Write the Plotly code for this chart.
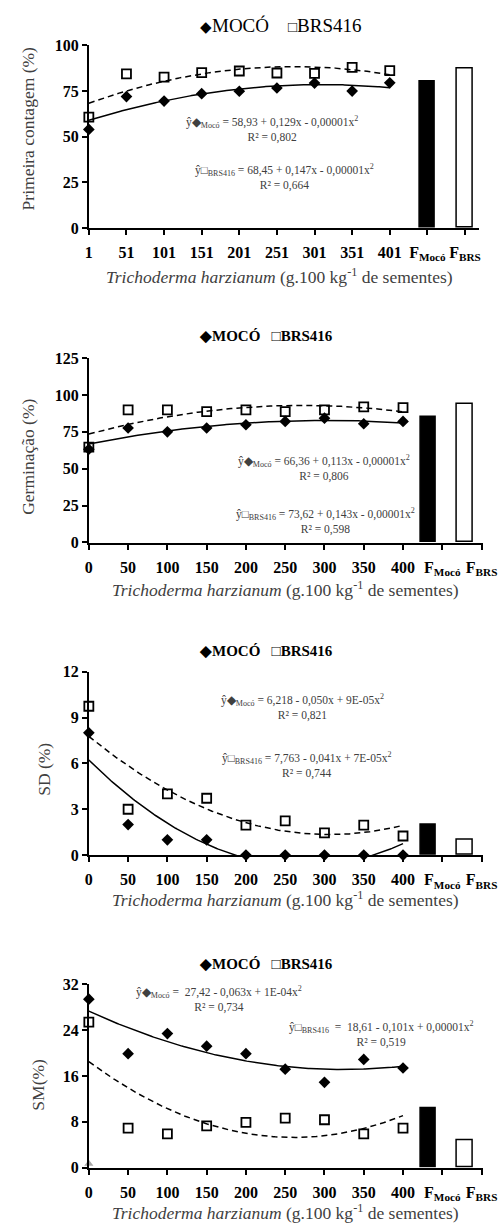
import numpy as np
import plotly.graph_objects as go

W, H = 501, 1229
SERIF = "Liberation Serif"

# ---------------- data ----------------
doses_p1 = [1, 51, 101, 151, 201, 251, 301, 351, 401]
doses = [0, 50, 100, 150, 200, 250, 300, 350, 400]
dose_labels_p1 = ["1", "51", "101", "151", "201", "251", "301", "351", "401"]
dose_labels = ["0", "50", "100", "150", "200", "250", "300", "350", "400"]
bar_labels = ["F<sub>Mocó</sub>", "F<sub>BRS</sub>"]

pc_moco = [54.0, 72.0, 69.5, 73.6, 74.9, 76.7, 79.4, 75.0, 79.5]
pc_brs = [60.7, 84.4, 82.6, 85.1, 86.0, 84.9, 84.7, 88.0, 86.2]
pc_bars = [80.0, 87.3]

ger_moco = [63.2, 77.6, 75.0, 77.6, 79.8, 82.1, 84.3, 80.5, 82.1]
ger_brs = [64.7, 89.9, 89.9, 88.7, 89.9, 88.7, 89.9, 91.9, 91.4]
ger_bars = [85.0, 93.9]

sd_moco = [8.0, 2.0, 1.0, 1.0, 0.0, 0.0, 0.0, 0.0, 0.0]
sd_brs = [9.74, 3.0, 4.0, 3.72, 1.96, 2.24, 1.46, 1.96, 1.25]
sd_bars = [2.0, 1.0]

sm_moco = [29.4, 19.9, 23.4, 21.2, 19.9, 17.2, 14.9, 18.9, 17.4]
sm_brs = [25.4, 6.9, 5.9, 7.3, 7.9, 8.66, 8.37, 5.9, 6.9]
sm_bars = [10.4, 4.87]
sm_extra_x = [0]
sm_extra_y = [0.7]

eq_texts = [
    ("ŷ◆<sub>Mocó</sub> = 58,93 + 0,129x - 0,00001x<sup>2</sup><br>R² = 0,802",
     "ŷ□<sub>BRS416</sub> = 68,45 + 0,147x - 0,00001x<sup>2</sup><br>R² = 0,664"),
    ("ŷ◆<sub>Mocó</sub> = 66,36 + 0,113x - 0,00001x<sup>2</sup><br>R² = 0,806",
     "ŷ□<sub>BRS416</sub> = 73,62 + 0,143x - 0,00001x<sup>2</sup><br>R² = 0,598"),
    ("ŷ◆<sub>Mocó</sub> = 6,218 - 0,050x + 9E-05x<sup>2</sup><br>R² = 0,821",
     "ŷ□<sub>BRS416</sub> = 7,763 - 0,041x + 7E-05x<sup>2</sup><br>R² = 0,744"),
    ("ŷ◆<sub>Mocó</sub> =  27,42 - 0,063x + 1E-04x<sup>2</sup><br>R² = 0,734",
     "ŷ□<sub>BRS416</sub>  =  18,61 - 0,101x + 0,00001x<sup>2</sup><br>R² = 0,519"),
]
y_titles = ["Primeira contagem (%)", "Germinação (%)", "SD (%)", "SM(%)"]

# ---------------- layout geometry (pixels) ----------------
panels = [
    dict(x=doses_p1, labels=dose_labels_p1, moco=pc_moco, brs=pc_brs, bars=pc_bars,
         ymax=100, dtick=25, ytop=38, ybot=223, xl=88, xr=493, xrange=[1, 520],
         barpos=[451, 501], barw=20.5, tickextra=[451, 501],
         leg=(287, 18, 19, False), ytit=(25, 123), xtit=(286, 272),
         eq=((278, 123), (291, 171))),
    dict(x=doses, labels=dose_labels, moco=ger_moco, brs=ger_brs, bars=ger_bars,
         ymax=125, dtick=25, ytop=355, ybot=542, xl=88, xr=497, xrange=[0, 502],
         barpos=[432, 478.5], barw=19.6, tickextra=[450, 500],
         leg=(272, 333, 15, True), ytit=(25, 455), xtit=(292, 589),
         eq=((332, 466), (333, 520))),
    dict(x=doses, labels=dose_labels, moco=sd_moco, brs=sd_brs, bars=sd_bars,
         ymax=12, dtick=3, ytop=673, ybot=859, xl=88, xr=497, xrange=[0, 502],
         barpos=[432, 478.5], barw=19.6, tickextra=[450, 500],
         leg=(272, 652, 15, True), ytit=(42, 772), xtit=(292, 904),
         eq=((310, 709), (314, 768))),
    dict(x=doses, labels=dose_labels, moco=sm_moco, brs=sm_brs, bars=sm_bars,
         ymax=32, dtick=8, ytop=990, ybot=1176, xl=88, xr=497, xrange=[0, 502],
         barpos=[432, 478.5], barw=19.6, tickextra=[450, 500],
         leg=(272, 969, 15, True), ytit=(35, 1092), xtit=(292, 1221),
         eq=((223, 1005), (391, 1040))),
]

fig = go.Figure()
annotations = []
layout_axes = {}

for i, p in enumerate(panels, start=1):
    xa = "x" if i == 1 else f"x{i}"
    ya = "y" if i == 1 else f"y{i}"
    xs = np.array(p["x"], dtype=float)

    # bars F
    fig.add_trace(go.Bar(
        x=p["barpos"], y=p["bars"], width=[p["barw"]] * 2,
        marker=dict(color=["black", "white"], line=dict(color="black", width=1.5)),
        xaxis=xa, yaxis=ya, showlegend=False))

    # quadratic trendlines fitted to the data (as in the original spreadsheet)
    xf = np.linspace(xs.min(), xs.max(), 200)
    cm = np.polyfit(xs, p["moco"], 2)
    cb = np.polyfit(xs, p["brs"], 2)
    fig.add_trace(go.Scatter(x=xf, y=np.polyval(cm, xf), mode="lines",
                             line=dict(color="black", width=1.5),
                             xaxis=xa, yaxis=ya, showlegend=False, hoverinfo="skip"))
    fig.add_trace(go.Scatter(x=xf, y=np.polyval(cb, xf), mode="lines",
                             line=dict(color="black", width=1.5, dash="6px,4px"),
                             xaxis=xa, yaxis=ya, showlegend=False, hoverinfo="skip"))

    # data points
    fig.add_trace(go.Scatter(x=p["x"], y=p["moco"], mode="markers", name="MOCÓ",
                             marker=dict(symbol="diamond", color="black", size=9),
                             cliponaxis=False, xaxis=xa, yaxis=ya, showlegend=False))
    fig.add_trace(go.Scatter(x=p["x"], y=p["brs"], mode="markers", name="BRS416",
                             marker=dict(symbol="square-open", color="black", size=9,
                                         line=dict(width=1.8, color="black")),
                             cliponaxis=False, xaxis=xa, yaxis=ya, showlegend=False))
    if i == 4:
        fig.add_trace(go.Scatter(x=sm_extra_x, y=sm_extra_y, mode="markers",
                                 marker=dict(symbol="triangle-up", color="#a8a8a8", size=8),
                                 cliponaxis=False, xaxis=xa, yaxis=ya, showlegend=False))

    tickfont = dict(family=SERIF, size=16, color="black", weight="bold")
    layout_axes["xaxis" if i == 1 else f"xaxis{i}"] = dict(
        domain=[p["xl"] / W, p["xr"] / W], anchor=ya, range=p["xrange"],
        tickvals=list(p["x"]) + p["tickextra"], ticktext=p["labels"] + bar_labels,
        showline=True, linecolor="black", linewidth=2, ticks="outside", ticklen=5,
        tickwidth=1.5, tickcolor="black", showgrid=False, zeroline=False,
        tickfont=tickfont, ticklabelstandoff=4, ticklabeloverflow="allow",
        fixedrange=True)
    layout_axes["yaxis" if i == 1 else f"yaxis{i}"] = dict(
        domain=[1 - p["ybot"] / H, 1 - p["ytop"] / H], anchor=xa,
        range=[0, p["ymax"]], dtick=p["dtick"], tick0=0,
        showline=True, linecolor="black", linewidth=2, ticks="outside", ticklen=5,
        tickwidth=1.5, tickcolor="black", showgrid=False, zeroline=False,
        tickfont=tickfont, ticklabeloverflow="allow", fixedrange=True)

    # legend-like header
    lx, ly, lsize, lbold = p["leg"]
    if lbold:
        legtxt = "<b>◆MOCÓ   □BRS416</b>"
    else:
        legtxt = ("<span style='font-size:15px'>◆</span>MOCÓ    "
                  "<span style='font-size:15px'>□</span>BRS416")
    annotations.append(dict(text=legtxt, x=lx / W, y=1 - ly / H, xref="paper", yref="paper",
                            xanchor="center", yanchor="middle", showarrow=False,
                            font=dict(family=SERIF, size=lsize, color="black")))
    # y title
    tx, ty = p["ytit"]
    annotations.append(dict(text=y_titles[i - 1], x=tx / W, y=1 - ty / H, xref="paper",
                            yref="paper", xanchor="center", yanchor="middle",
                            textangle=-90, showarrow=False,
                            font=dict(family=SERIF, size=17.5, color="#404040")))
    # x title
    tx, ty = p["xtit"]
    annotations.append(dict(text="<i>Trichoderma harzianum</i> (g.100 kg<sup>-1</sup> de sementes)",
                            x=tx / W, y=1 - ty / H, xref="paper", yref="paper",
                            xanchor="center", yanchor="middle", showarrow=False,
                            font=dict(family=SERIF, size=17.5, color="#404040")))
    # equations
    for (ex, ey), et in zip(p["eq"], eq_texts[i - 1]):
        annotations.append(dict(text=et, x=ex / W, y=1 - ey / H, xref="paper", yref="paper",
                                xanchor="center", yanchor="middle", showarrow=False,
                                align="center",
                                font=dict(family=SERIF, size=11.5, color="#404040")))

fig.update_layout(
    width=W, height=H, margin=dict(l=0, r=0, t=0, b=0),
    font=dict(family=SERIF),
    paper_bgcolor="white", plot_bgcolor="white", showlegend=False,
    bargap=0, annotations=annotations, **layout_axes)

fig.write_html("out.html")
